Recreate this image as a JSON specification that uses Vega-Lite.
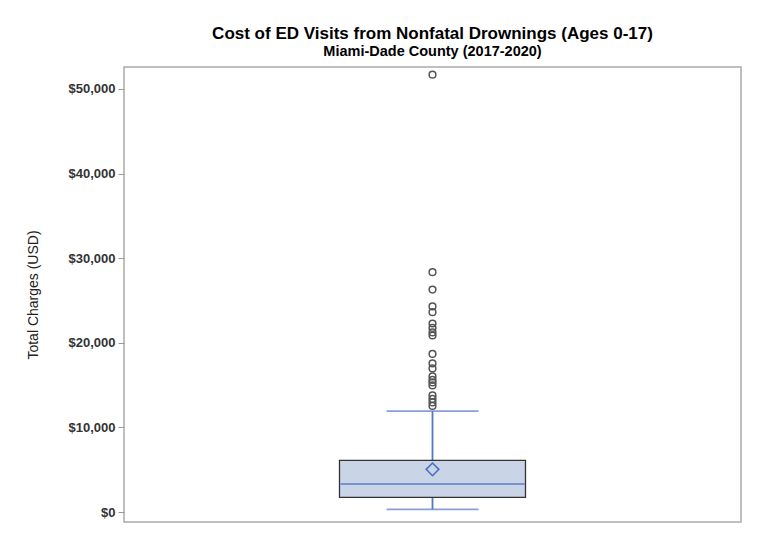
{
  "$schema": "https://vega.github.io/schema/vega-lite/v6.json",
  "autosize": "none",
  "width": 617,
  "height": 455,
  "padding": {"left": 124, "top": 67, "right": 19, "bottom": 11},
  "background": "white",
  "title": {
    "text": "Cost of ED Visits from Nonfatal Drownings (Ages 0-17)",
    "subtitle": "Miami-Dade County (2017-2020)",
    "anchor": "middle",
    "font": "Liberation Sans",
    "fontSize": 17,
    "fontWeight": "bold",
    "color": "#000000",
    "subtitleFont": "Liberation Sans",
    "subtitleFontSize": 14.5,
    "subtitleFontWeight": "bold",
    "subtitleColor": "#000000",
    "subtitlePadding": 2,
    "offset": 8
  },
  "config": {
    "view": {"stroke": "#ababab", "strokeWidth": 1.5},
    "font": "Liberation Sans"
  },
  "datasets": {
    "summary": [
      {"group": "All", "lower": 320, "q1": 1740, "median": 3310, "mean": 5040, "q3": 6100, "upper": 11920}
    ],
    "outliers": [
      {"group": "All", "charge": 51680},
      {"group": "All", "charge": 28340},
      {"group": "All", "charge": 26290},
      {"group": "All", "charge": 24290},
      {"group": "All", "charge": 23610},
      {"group": "All", "charge": 22280},
      {"group": "All", "charge": 21750},
      {"group": "All", "charge": 21220},
      {"group": "All", "charge": 20860},
      {"group": "All", "charge": 18680},
      {"group": "All", "charge": 17560},
      {"group": "All", "charge": 16970},
      {"group": "All", "charge": 16020},
      {"group": "All", "charge": 15610},
      {"group": "All", "charge": 15310},
      {"group": "All", "charge": 14960},
      {"group": "All", "charge": 13780},
      {"group": "All", "charge": 13360},
      {"group": "All", "charge": 12950},
      {"group": "All", "charge": 12540}
    ]
  },
  "encoding": {
    "x": {"field": "group", "type": "nominal", "axis": null}
  },
  "layer": [
    {
      "data": {"name": "summary"},
      "mark": {"type": "rule", "color": "#5577c5", "strokeWidth": 1.8},
      "encoding": {
        "y": {"field": "q3", "type": "quantitative", "scale": {"domain": [-1180, 52590], "nice": false, "zero": false},
          "axis": {
            "title": "Total Charges (USD)",
            "values": [0, 10000, 20000, 30000, 40000, 50000],
            "format": "$,.0f",
            "grid": false,
            "domain": false,
            "tickColor": "#999999",
            "tickSize": 6,
            "labelPadding": 3,
            "labelFontSize": 13,
            "labelFontWeight": "bold",
            "labelColor": "#333333",
            "titleFontSize": 14,
            "titleFontWeight": "normal",
            "titleColor": "#222222",
            "titlePadding": 28
          }
        },
        "y2": {"field": "upper"}
      }
    },
    {
      "data": {"name": "summary"},
      "mark": {"type": "rule", "color": "#5577c5", "strokeWidth": 1.8},
      "encoding": {
        "y": {"field": "lower", "type": "quantitative"},
        "y2": {"field": "q1"}
      }
    },
    {
      "data": {"name": "summary"},
      "mark": {"type": "tick", "color": "#5577c5", "size": 92, "thickness": 1.8},
      "encoding": {"y": {"field": "upper", "type": "quantitative"}}
    },
    {
      "data": {"name": "summary"},
      "mark": {"type": "tick", "color": "#5577c5", "size": 92, "thickness": 1.8},
      "encoding": {"y": {"field": "lower", "type": "quantitative"}}
    },
    {
      "data": {"name": "summary"},
      "mark": {"type": "bar", "size": 186, "fill": "#c9d5e6", "stroke": "#333333", "strokeWidth": 1.3},
      "encoding": {
        "y": {"field": "q1", "type": "quantitative"},
        "y2": {"field": "q3"}
      }
    },
    {
      "data": {"name": "summary"},
      "mark": {"type": "tick", "color": "#5577c5", "size": 184, "thickness": 1.8},
      "encoding": {"y": {"field": "median", "type": "quantitative"}}
    },
    {
      "data": {"name": "summary"},
      "mark": {"type": "point", "shape": "diamond", "filled": false, "color": "#4a6fc0", "strokeWidth": 1.6, "size": 160, "opacity": 1},
      "encoding": {"y": {"field": "mean", "type": "quantitative"}}
    },
    {
      "data": {"name": "outliers"},
      "mark": {"type": "point", "shape": "circle", "filled": false, "color": "#555555", "strokeWidth": 1.5, "size": 45, "opacity": 1},
      "encoding": {"y": {"field": "charge", "type": "quantitative"}}
    }
  ]
}
